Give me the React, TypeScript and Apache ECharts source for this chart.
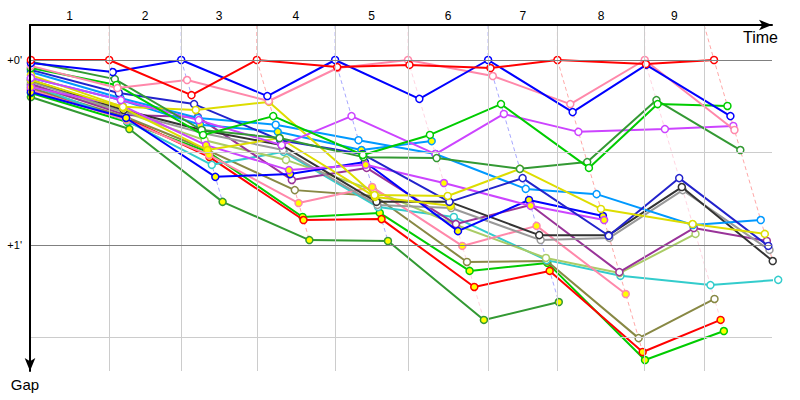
import React, { useEffect, useRef } from "react";
import * as echarts from "echarts";

// Lap labels shown along the top axis
const lapLabels = ["1", "2", "3", "4", "5", "6", "7", "8", "9"];
// Leader's elapsed time (s) when completing each lap (lap index 0..9)
const lapTimes = [0, 88, 168, 252, 339, 420, 509, 586, 683, 760];
// Vertical time marks (s) delimiting the lap columns
const timeMarks = [0, 88, 168, 252, 339, 420, 509, 586, 683, 749];
// Gap reference lines (minutes) and their labels
const gapTicks = [0, 0.5, 1, 1.5];
const gapTickLabels = ["+0'", "", "+1'", ""];

// Gap to leader (seconds) per lap for each driver
const redA = [0, 0, 11.4, 0, 2.3, 1.6, 2.6, 0, 1.3, 0];
const blueA = [1, 3.9, 0, 11.7, 0, 12.6, 0, 16.9, 1.6, 18.2];
const pinkA = [1.9, 9.1, 6.5, 13.3, 2.6, 0, 5.2, 14.3, 0, 22.7];
const yellowA = [4.9, 15.2, 16.2, 13.6, 43.8, 44.1, 35.3, 48.3, 53.2, 56.4];
const greenA = [2.6, 8.1, 24.3, 18.2, 30.8, 24.3, 14.3, 35, 14.3, 14.9];
const darkGreenA = [0.6, 6.2, 22.7, 25.3, 31.5, 31.8, 35.3, 33.1, 13, 29.2];
const violetA = [5.8, 13, 19.5, 27.6, 18.2, 30.5, 17.5, 23.3, 22.4, 21.4];
const darkBlueA = [3.2, 10.7, 14.3, 26, 30.5, 46, 38.3, 57, 38.3, 60.3];
const darkGrayA = [6.5, 16.2, 22.7, 27.6, 46, 46, 56.8, 56.8, 41.2, 65.2];
const grayA = [7.1, 16.9, 23.7, 29.2, 47, 48, 58.4, 57.7, 42.2, 61.6];
const lightBlueA = [3.9, 12.3, 18.8, 21, 26, 30.5, 41.8, 43.5, 53.5, 51.9];
const cyanA = [8.1, 19.8, 34, 29.8, 47.7, 50.9, 64.9, 70, 73, 71.3];
const darkPurpleA = [7.8, 17.8, 18.5, 38.9, 35, 53.2, 47, 68.8, 54.5, 58.7];
const lightGreenA = [8.4, 16.9, 26, 32.4, 42.2, 53.5, 64.2, 69.1, 56.4];
const oliveA = [9.1, 18.5, 29.2, 42.2, 44.1, 65.5, 65.2, 90.2, 77.5];
const pinkB = [9.7, 19.5, 30.8, 46.4, 41.2, 60.3, 53.8, 75.9];
const violetB = [8.8, 14.9, 27.6, 35.7, 34, 39.9, 47.3, 51.9];
const blueB = [10.4, 18.8, 37.9, 37, 33.1, 55.5, 45.4, 50.6];
const lightBlueB = [5.8, 13, 21, 23.3, 29.2, 26.3];
const yellowB = [6.5, 15.6, 29.2, 25.3, 44.4, 47.3];
const redB = [9.7, 18.8, 31.5, 51.9, 51.6, 73.6, 68.4, 94.7, 84.3];
const greenB = [10.7, 20.1, 29.8, 50.9, 49.6, 68.4, 65.8, 97.3, 87.9];
const darkGreenB = [12, 22.4, 46, 58.4, 58.7, 84.3, 78.5];

const WHITE = "#ffffff";
const YEL = "#ffff00";

type Driver = { color: string; fill: string; gaps: number[] };
const drivers: Driver[] = [
  { color: "#339933", fill: YEL, gaps: darkGreenB },
  { color: "#00cc00", fill: YEL, gaps: greenB },
  { color: "#ff0000", fill: YEL, gaps: redB },
  { color: "#888844", fill: WHITE, gaps: oliveA },
  { color: "#33cccc", fill: WHITE, gaps: cyanA },
  { color: "#aacc66", fill: WHITE, gaps: lightGreenA },
  { color: "#ff88aa", fill: YEL, gaps: pinkB },
  { color: "#993399", fill: WHITE, gaps: darkPurpleA },
  { color: "#999999", fill: WHITE, gaps: grayA },
  { color: "#333333", fill: WHITE, gaps: darkGrayA },
  { color: "#0000ff", fill: YEL, gaps: blueB },
  { color: "#cc44ff", fill: YEL, gaps: violetB },
  { color: "#dddd00", fill: YEL, gaps: yellowB },
  { color: "#0099ff", fill: YEL, gaps: lightBlueB },
  { color: "#0099ff", fill: WHITE, gaps: lightBlueA },
  { color: "#2222cc", fill: WHITE, gaps: darkBlueA },
  { color: "#dddd00", fill: WHITE, gaps: yellowA },
  { color: "#cc44ff", fill: WHITE, gaps: violetA },
  { color: "#339933", fill: WHITE, gaps: darkGreenA },
  { color: "#00cc00", fill: WHITE, gaps: greenA },
  { color: "#ff88aa", fill: WHITE, gaps: pinkA },
  { color: "#0000ff", fill: WHITE, gaps: blueA },
  { color: "#ff0000", fill: WHITE, gaps: redA },
];

const Y_MIN = -0.1892;
const Y_MAX = 1.681;
const X_MAX = 824.4;
const FONT = "Liberation Sans";

function toPoint(k: number, g: number) {
  const x = k === 0 ? lapTimes[0] + 1 : lapTimes[k] + g;
  return [x, g / 60];
}

function buildOption() {
  const series: any[] = [];

  // reference lines, gap labels and lap labels
  series.push({
    type: "line",
    data: [],
    silent: true,
    z: 0,
    markLine: {
      silent: true,
      symbol: ["none", "none"],
      animation: false,
      data: [
        ...timeMarks.slice(1).map((t) => ({
          xAxis: t,
          lineStyle: { color: "#cccccc", width: 1, type: "solid" },
          label: { show: false },
        })),
        ...gapTicks.map((g, i) => ({
          yAxis: g,
          lineStyle: {
            color: i % 2 === 0 ? "#808080" : "#cccccc",
            width: 1,
            type: "solid",
          },
          label: {
            show: gapTickLabels[i] !== "",
            formatter: gapTickLabels[i],
            position: "start",
            distance: 8,
            color: "#000",
            fontSize: 11,
            fontFamily: FONT,
          },
        })),
      ],
    },
    markArea: {
      silent: true,
      itemStyle: { color: "rgba(0,0,0,0)" },
      label: {
        show: true,
        position: "top",
        distance: 3,
        color: "#000",
        fontSize: 12,
        fontFamily: FONT,
      },
      data: lapLabels.map((l, i) => [
        { name: l, xAxis: timeMarks[i] },
        { xAxis: timeMarks[i + 1] },
      ]),
    },
  });

  // dashed lap lines through every driver's point of the same lap
  for (let k = 1; k < lapTimes.length; k++) {
    const entries = drivers
      .filter((d) => d.gaps[k] != null)
      .map((d) => ({ d, g: d.gaps[k] }))
      .sort((a, b) => a.g - b.g);
    if (!entries.length) continue;
    const leader = entries[0].d;
    const pts = [[timeMarks[k], Y_MIN], ...entries.map((e) => toPoint(k, e.g))];
    series.push({
      type: "line",
      data: pts,
      symbol: "none",
      silent: true,
      z: 1,
      lineStyle: { color: leader.color, width: 1, type: [4, 3], opacity: 0.35 },
    });
  }

  drivers.forEach((d, i) => {
    series.push({
      type: "line",
      data: d.gaps.map((g, k) => toPoint(k, g)),
      symbol: "circle",
      symbolSize: 7,
      clip: false,
      z: 2 + i * 0.01,
      lineStyle: { color: d.color, width: 2 },
      itemStyle: { color: d.fill, borderColor: d.color, borderWidth: 1.5 },
    });
  });

  return {
    animation: false,
    backgroundColor: "#ffffff",
    grid: { left: 30, right: 28, top: 25, bottom: 29, containLabel: false },
    xAxis: {
      type: "value",
      position: "top",
      min: 0,
      max: X_MAX,
      z: 10,
      axisLine: {
        show: true,
        onZero: false,
        lineStyle: { color: "#000", width: 2 },
        symbol: ["none", "arrow"],
        symbolSize: [8, 13],
      },
      axisTick: { show: false },
      axisLabel: { show: false },
      splitLine: { show: false },
    },
    yAxis: {
      type: "value",
      inverse: true,
      min: Y_MIN,
      max: Y_MAX,
      z: 10,
      axisLine: {
        show: true,
        onZero: false,
        lineStyle: { color: "#000", width: 2 },
        symbol: ["arrow", "none"],
        symbolSize: [8, 13],
      },
      axisTick: { show: false },
      axisLabel: { show: false },
      splitLine: { show: false },
    },
    graphic: [
      {
        type: "text",
        x: 778,
        y: 29,
        style: {
          text: "Time",
          fill: "#000",
          fontSize: 16,
          fontFamily: FONT,
          align: "right",
          verticalAlign: "top",
        },
      },
      {
        type: "text",
        x: 25,
        y: 377,
        style: {
          text: "Gap",
          fill: "#000",
          fontSize: 15,
          fontFamily: FONT,
          align: "center",
          verticalAlign: "top",
        },
      },
    ],
    series,
  };
}

export default function App() {
  const ref = useRef<HTMLDivElement>(null);
  useEffect(() => {
    const chart = echarts.init(ref.current!, null, { renderer: "svg" });
    chart.setOption(buildOption() as any);
    return () => chart.dispose();
  }, []);
  return (
    <div
      ref={ref}
      style={{ position: "fixed", left: 0, top: 0, width: 800, height: 400 }}
    />
  );
}
